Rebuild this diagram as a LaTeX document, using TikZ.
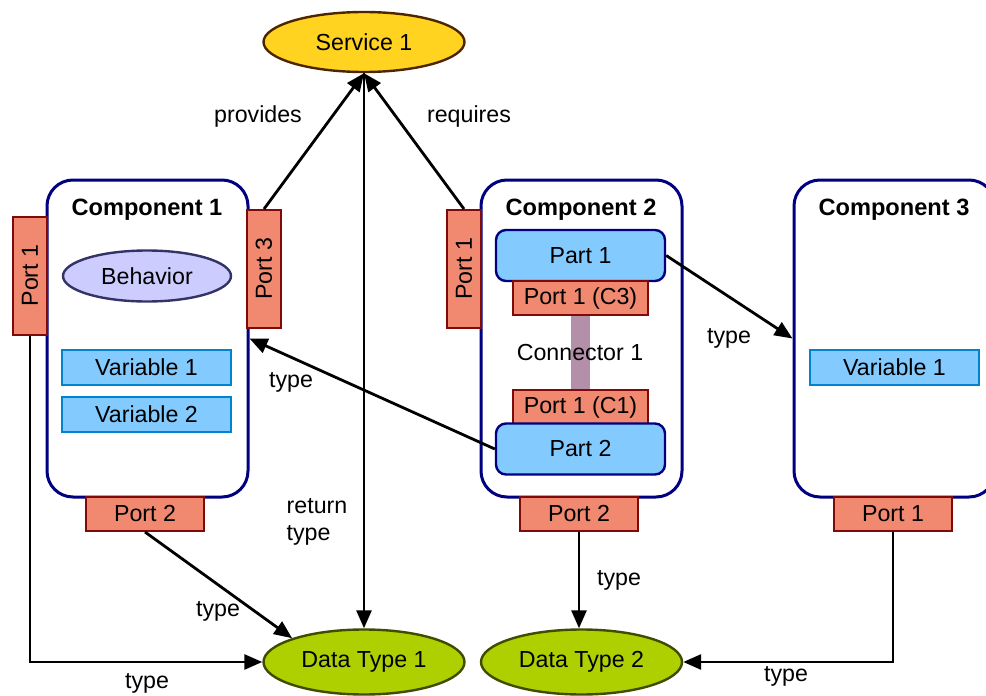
\documentclass[tikz,border=0pt]{standalone}
\usepackage{fontspec}
\setmainfont{Liberation Sans}
\usetikzlibrary{arrows.meta}
\usetikzlibrary{positioning}
\usetikzlibrary{shapes.geometric}

\definecolor{compline}{HTML}{000080}
\definecolor{portfill}{HTML}{F0896F}
\definecolor{portline}{HTML}{7F0A0A}
\definecolor{varfill}{HTML}{83CAFF}
\definecolor{varline}{HTML}{0084D1}
\definecolor{behfill}{HTML}{CCCCFF}
\definecolor{behline}{HTML}{333366}
\definecolor{srvfill}{HTML}{FFD320}
\definecolor{srvline}{HTML}{4D2600}
\definecolor{dtfill}{HTML}{AECF00}
\definecolor{dtline}{HTML}{3F4D00}
\definecolor{connbar}{HTML}{B38FA9}

\tikzset{
  comp/.style={draw=compline, line width=1.5pt, rounded corners=13pt, fill=white,
    minimum width=100.5pt, minimum height=158.5pt},
  title/.style={font=\fontsize{11.8}{13}\selectfont\bfseries},
  port/.style={draw=portline, fill=portfill, line width=1pt, inner sep=0pt,
    minimum width=59pt, minimum height=17pt},
  vport/.style={port, rotate=90},
  var/.style={draw=varline, fill=varfill, line width=1pt, inner sep=0pt,
    minimum width=84.5pt, minimum height=17.5pt},
  part/.style={draw=compline, fill=varfill, line width=1.2pt, rounded corners=5pt,
    inner sep=0pt, minimum width=84.5pt, minimum height=25.5pt},
  blob/.style={ellipse, line width=1.2pt, inner sep=0pt, minimum width=100.5pt},
  arr/.style={-{Triangle[length=9pt,width=7.5pt]}, line width=1.4pt}
}

\begin{document}
\begin{tikzpicture}[x=0.5pt, y=-0.5pt, font=\fontsize{11.6}{13.5}\selectfont]
    \useasboundingbox (0,0) rectangle (986,696);
    \clip (0,0) rectangle (986,696); % component 3 runs off the right edge

    \node [blob, draw=srvline, fill=srvfill, minimum height=30pt] (srv) at (364,42) {Service 1};

    % component 1
    \node [comp] (cA) at (147.5,338.5) {};
    \node [title] (tA) at (147,210) {Component 1};
    \node [blob, draw=behline, fill=behfill, minimum width=84pt, minimum height=25.5pt] (beh) at (147,276) {Behavior};
    \node [var] (vA1) at (146.5,367.5) {Variable 1};
    \node [var] (vA2) at (146.5,414.5) {Variable 2};
    \node [vport] (pA1) at (30,275.5) {Port 1};
    \node [vport] (pA3) at (264,269) {Port 3};
    \node [port] (pA2) at (145,514) {Port 2};

    % component 2
    \node [comp] (cB) at (581.5,338.5) {};
    \node [title] (tB) at (581,210) {Component 2};
    \node [part] (prt1) at (580.5,255.5) {Part 1};
    \node [port, minimum width=67.5pt] (pc3) at (580.5,298) {Port 1 (C3)};
    \node [port, minimum width=67.5pt] (pc1) at (580.5,407) {Port 1 (C1)};
    \node [part] (prt2) at (580.5,449) {Part 2};
    \draw [connbar, line width=9.5pt] (pc3.south) -- (pc1.north);
    \node (conn) at (580,353) {Connector 1};
    \node [vport] (pB1) at (464,269) {Port 1};
    \node [port] (pB2) at (579,514) {Port 2};

    % component 3
    \node [comp] (cC) at (894.5,338.5) {};
    \node [title] (tC) at (894,210) {Component 3};
    \node [var] (vC1) at (894.5,367.5) {Variable 1};
    \node [port] (pC1) at (893,514) {Port 1};

    \node [blob, draw=dtline, fill=dtfill, minimum height=32.5pt] (dt1) at (364,662) {Data Type 1};
    \node [blob, draw=dtline, fill=dtfill, minimum height=32.5pt] (dt2) at (581.5,662) {Data Type 2};

    \draw [arr] (pA3.east) -- (srv.south);
    \draw [arr] (pB1.east) -- (srv.south);
    \draw [arr] (srv.south) -- (dt1.north);
    \draw [arr] (prt2.west) -- (cA.east);
    \draw [arr] (prt1.east) -- (cC.west);
    \draw [arr] (pA2.south) -- (dt1.north west);
    \draw [arr] (pA1.west) |- (dt1.west);
    \draw [arr] (pB2.south) -- (pB2.south |- dt2.north);
    \draw [arr] (pC1.south) |- (dt2.east);

    \node (lprov) at (258,117) {provides};
    \node (lreq) at (469,117) {requires};
    \node [align=left] (lret) at (317,522) {return\\type};
    \node (lt1) at (291,382) {type};
    \node (lt2) at (729,338) {type};
    \node (lt3) at (218,611) {type};
    \node (lt4) at (147,683) {type};
    \node (lt5) at (619,580) {type};
    \node (lt6) at (786,676) {type};
\end{tikzpicture}
\end{document}
